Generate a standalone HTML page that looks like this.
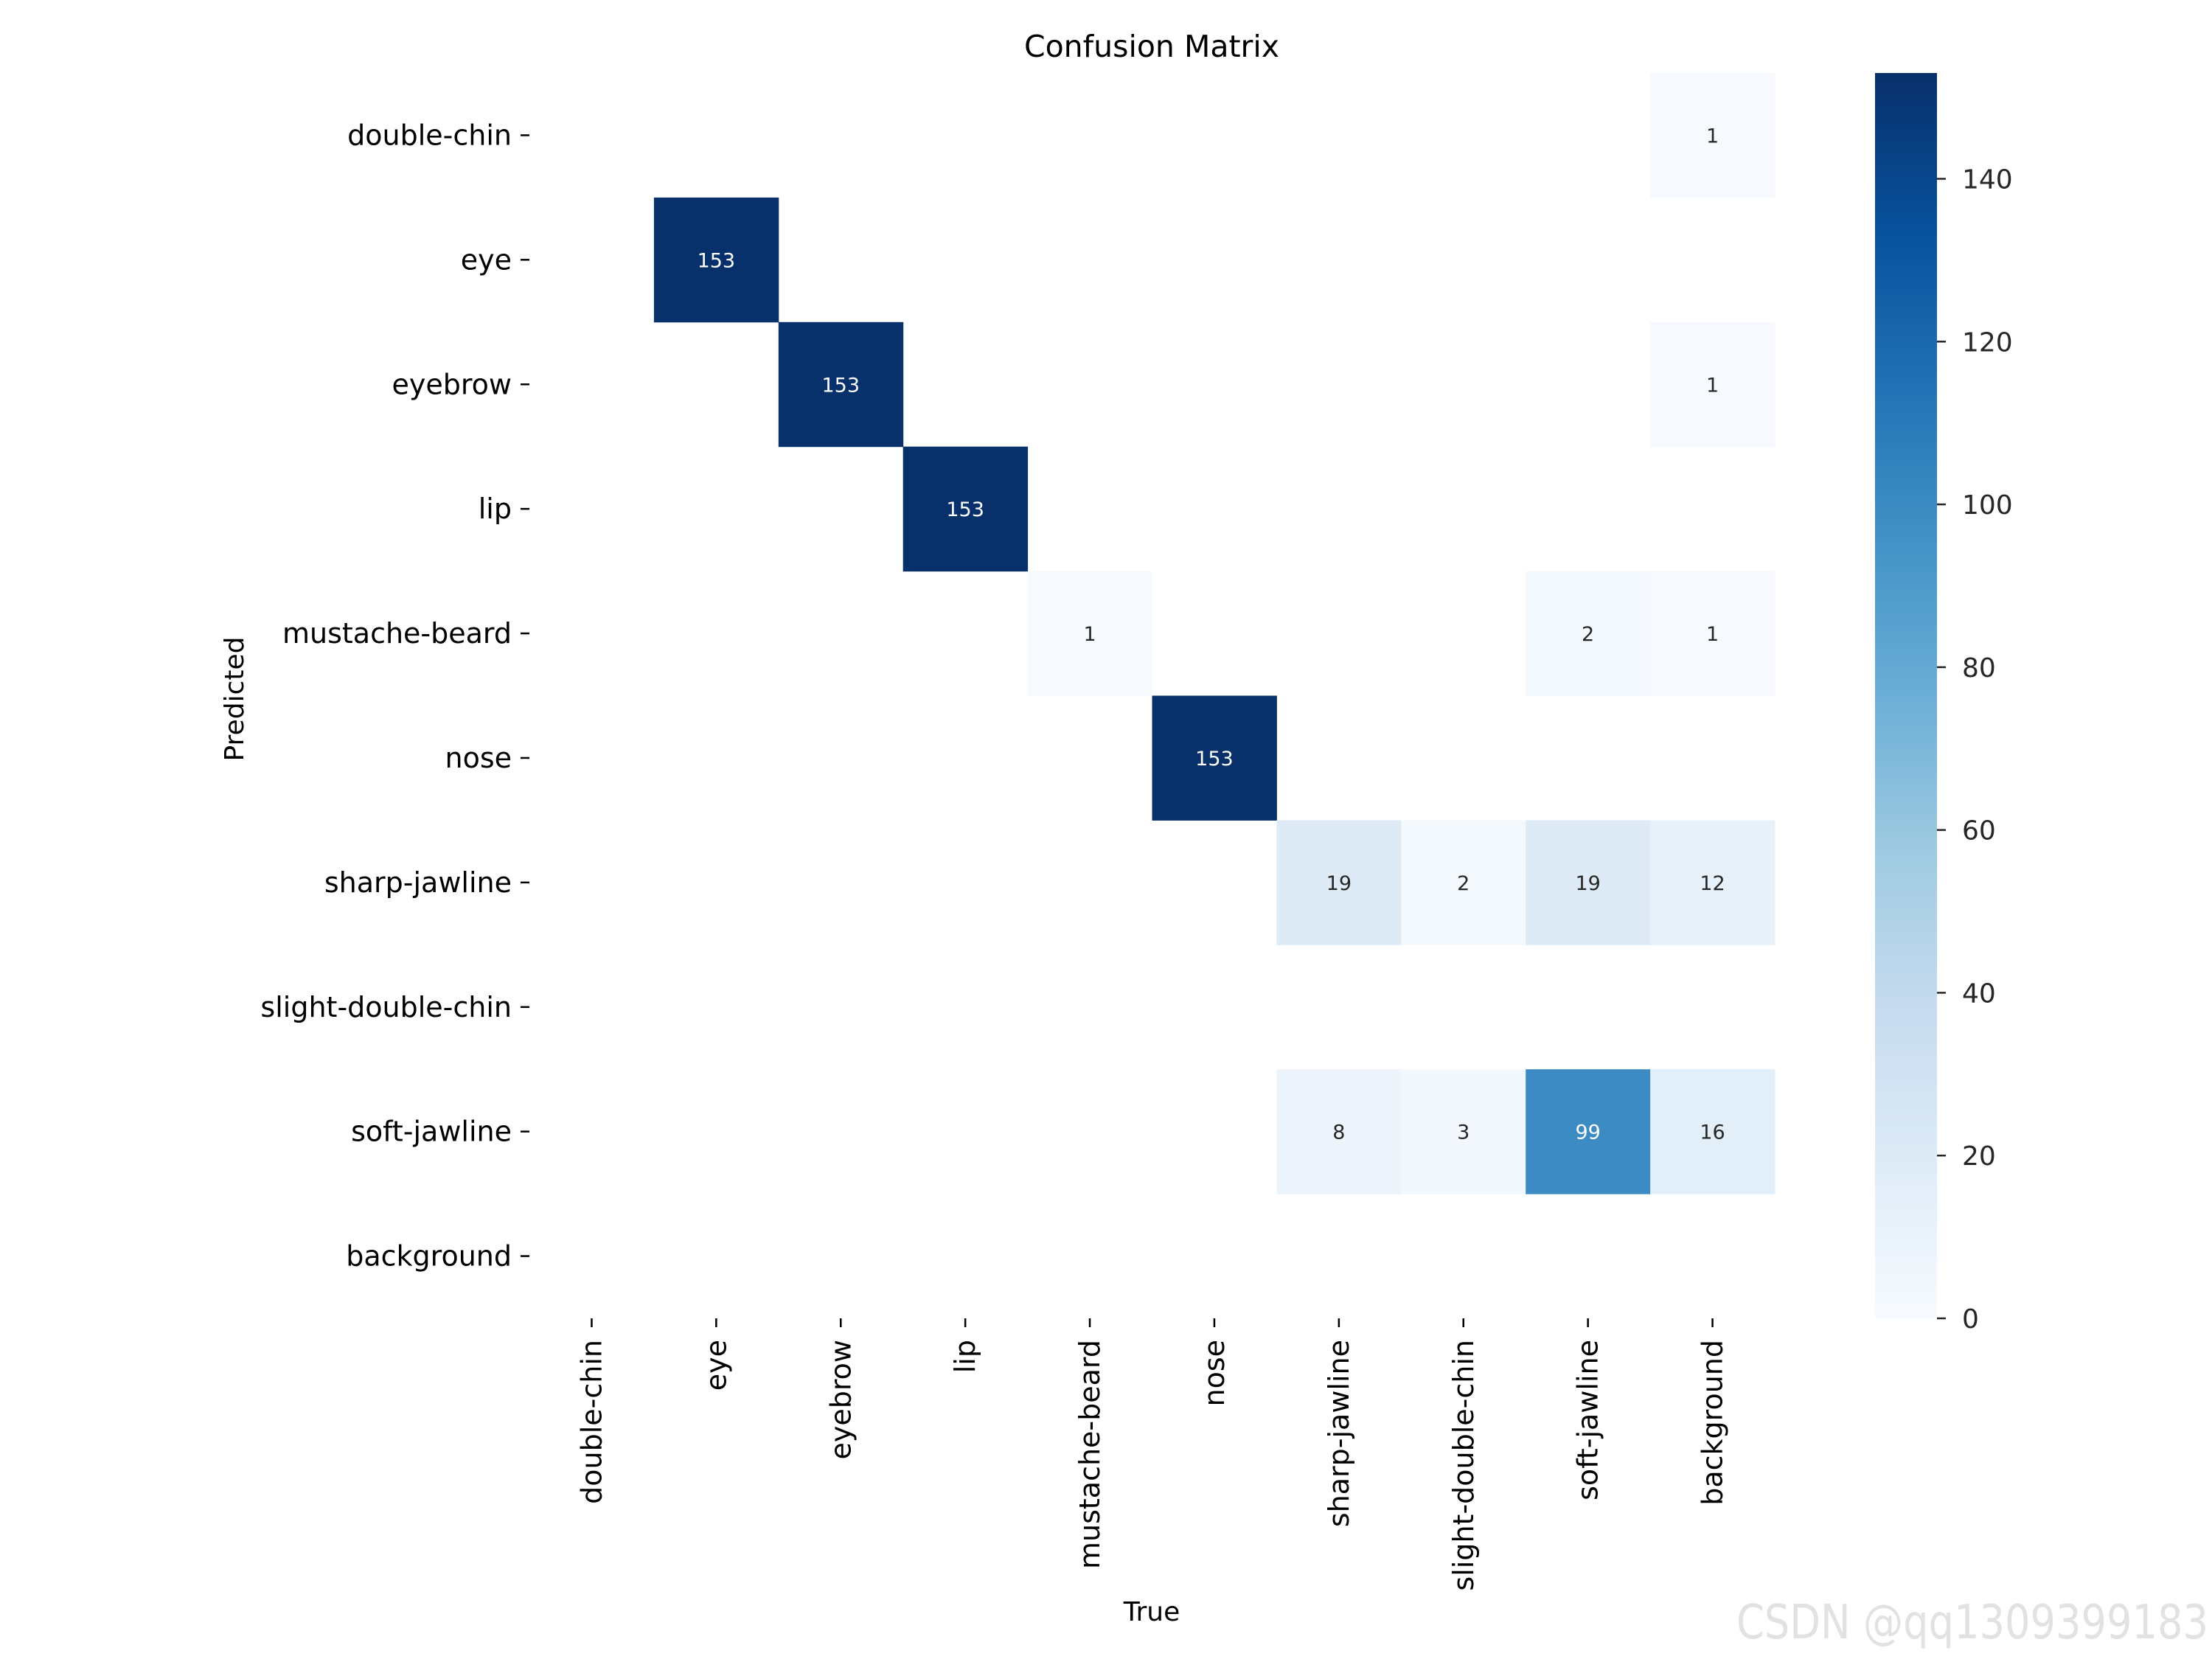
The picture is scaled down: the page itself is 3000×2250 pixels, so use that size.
<!DOCTYPE html>
<html><head><meta charset="utf-8"><style>
html,body{margin:0;padding:0;background:#fff;}
svg{display:block;}
text{font-family:"DejaVu Sans","Liberation Sans",sans-serif;}
</style></head><body>
<svg id="chart" width="3000" height="2250" viewBox="0 0 3000 2250" xmlns="http://www.w3.org/2000/svg">
<defs>
<linearGradient id="cbgrad" x1="0" y1="1" x2="0" y2="0">
<stop offset="0" stop-color="#f7fbff"/><stop offset="0.125" stop-color="#deebf7"/><stop offset="0.25" stop-color="#c6dbef"/><stop offset="0.375" stop-color="#9ecae1"/><stop offset="0.5" stop-color="#6baed6"/><stop offset="0.625" stop-color="#4292c6"/><stop offset="0.75" stop-color="#2171b5"/><stop offset="0.875" stop-color="#08519c"/><stop offset="1" stop-color="#08306b"/>
</linearGradient>
</defs>
<text x="1562" y="77" font-size="41" text-anchor="middle" fill="#000">Confusion Matrix</text>
<text transform="translate(330,948) rotate(-90)" font-size="36" text-anchor="middle" fill="#000">Predicted</text>
<text x="1562" y="2198" font-size="36" text-anchor="middle" fill="#000">True</text>
<g id="cells"></g>
<g id="yticks"></g>
<g id="xticks"></g>
<rect x="2543" y="99" width="84" height="1689" fill="url(#cbgrad)"/>
<g id="cbticks"></g>
<text x="2355" y="2222" font-size="64" fill="#e2e2e2" font-family="Liberation Sans, sans-serif" textLength="640" lengthAdjust="spacingAndGlyphs">CSDN @qq1309399183</text>
</svg>
<script>
const predLabels = ["double-chin","eye","eyebrow","lip","mustache-beard","nose","sharp-jawline","slight-double-chin","soft-jawline","background"];
const trueLabels = ["double-chin","eye","eyebrow","lip","mustache-beard","nose","sharp-jawline","slight-double-chin","soft-jawline","background"];
const row0 = [0,0,0,0,0,0,0,0,0,1];
const row1 = [0,153,0,0,0,0,0,0,0,0];
const row2 = [0,0,153,0,0,0,0,0,0,1];
const row3 = [0,0,0,153,0,0,0,0,0,0];
const row4 = [0,0,0,0,1,0,0,0,2,1];
const row5 = [0,0,0,0,0,153,0,0,0,0];
const row6 = [0,0,0,0,0,0,19,2,19,12];
const row7 = [0,0,0,0,0,0,0,0,0,0];
const row8 = [0,0,0,0,0,0,8,3,99,16];
const row9 = [0,0,0,0,0,0,0,0,0,0];
const cbTicks = [0,20,40,60,80,100,120,140];
const vmax = 153;

const NS = "http://www.w3.org/2000/svg";
const rows = [row0,row1,row2,row3,row4,row5,row6,row7,row8,row9];
const X0 = 718, Y0 = 99, W = 1689, H = 1689;
const cw = W / trueLabels.length, ch = H / predLabels.length;
const xPos = i => X0 + i * cw;
const yPos = j => Y0 + j * ch;
const cbY = v => 1788 - (v / vmax) * 1689;
const stops = ["#f7fbff","#deebf7","#c6dbef","#9ecae1","#6baed6","#4292c6","#2171b5","#08519c","#08306b"].map(h=>[parseInt(h.substr(1,2),16),parseInt(h.substr(3,2),16),parseInt(h.substr(5,2),16)]);
function color(v){
  let t = Math.max(0, Math.min(1, v / vmax)) * 8;
  let i = Math.min(7, Math.floor(t)), f = t - i;
  const c = stops[i].map((a,k)=>Math.round(a + (stops[i+1][k]-a)*f));
  return "rgb("+c.join(",")+")";
}
function mk(tag, attrs, parent){ const e = document.createElementNS(NS, tag); for (const k in attrs) e.setAttribute(k, attrs[k]); parent.appendChild(e); return e; }

const cells = document.getElementById("cells");
rows.forEach((r, j) => {
  r.forEach((v, i) => {
    if (v <= 0) return;
    const rect = mk("rect", {x: xPos(i), y: yPos(j), width: cw + 0.5, height: ch + 0.5, fill: color(v)}, cells);
    
    
    const t = mk("text", {x: xPos(i) + cw/2, y: yPos(j) + ch/2 + 10, "font-size": 27, "text-anchor": "middle", fill: v / vmax > 0.5 ? "#ffffff" : "#262626"}, cells);
    t.textContent = v;
    
    
  });
});

const yt = document.getElementById("yticks");
predLabels.forEach((lab, j) => {
  const cy = yPos(j) + ch/2;
  const l = mk("line", {x1: 706, x2: 718, y1: cy, y2: cy, stroke: "#000", "stroke-width": 2.5}, yt);
  
  
  const t = mk("text", {x: 694, y: cy + 13, "font-size": 38, "text-anchor": "end", fill: "#000"}, yt);
  t.textContent = lab;
  
  
});

const xt = document.getElementById("xticks");
trueLabels.forEach((lab, i) => {
  const cx = xPos(i) + cw/2;
  const l = mk("line", {x1: cx, x2: cx, y1: 1788, y2: 1800, stroke: "#000", "stroke-width": 2.5}, xt);
  
  
  const t = mk("text", {transform: "translate(" + (cx + 13) + ",1817) rotate(-90)", "font-size": 38, "text-anchor": "end", fill: "#000"}, xt);
  t.textContent = lab;
  
  
});

const cbt = document.getElementById("cbticks");
cbTicks.forEach(v => {
  const y = cbY(v);
  const l = mk("line", {x1: 2627, x2: 2639, y1: y, y2: y, stroke: "#262626", "stroke-width": 2.5}, cbt);
  
  
  const t = mk("text", {x: 2661, y: y + 13, "font-size": 36, fill: "#262626"}, cbt);
  t.textContent = v;
  
  
});
</script>
</body></html>
